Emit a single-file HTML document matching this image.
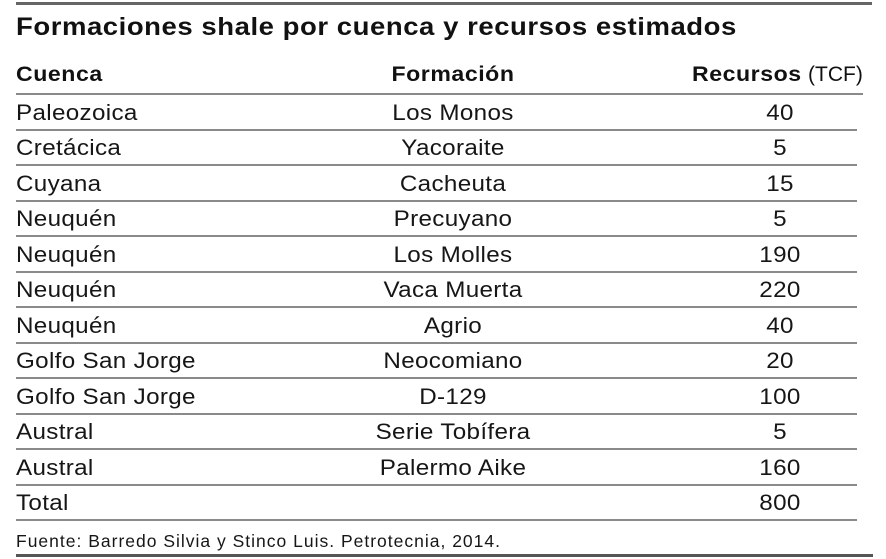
<!DOCTYPE html>
<html>
<head>
<meta charset="utf-8">
<style>
  html,body{margin:0;padding:0;background:#fff;}
  body{width:886px;height:559px;position:relative;overflow:hidden;font-family:"Liberation Sans",Arial,sans-serif;color:#161616;}
  .ln{position:absolute;background:#8a8a8a;height:2px;}
  .t{position:absolute;white-space:nowrap;}
  .title{left:16px;top:14.8px;font-size:25px;line-height:25px;font-weight:bold;letter-spacing:0.5px;color:#111;transform:scaleX(1.1);transform-origin:0 50%;}
  .hd{top:64.2px;font-size:21px;line-height:21px;font-weight:bold;letter-spacing:0.5px;color:#111;transform:scaleX(1.1);}
  .row{position:absolute;left:0;width:886px;height:35.5px;font-size:22px;line-height:35.5px;letter-spacing:0.3px;}
  .row span{position:absolute;top:0.6px;white-space:nowrap;transform:scaleX(1.1);}
  .c1{left:16px;transform-origin:0 50%;}
  .c2{left:353px;width:200px;text-align:center;transform-origin:50% 50%;}
  .c3{left:730px;width:100px;text-align:center;transform-origin:50% 50%;}
  .src{left:16px;top:533.2px;font-size:17.5px;line-height:17.5px;letter-spacing:1px;}
</style>
</head>
<body>
  <div class="ln" style="left:16px;top:2px;width:856px;height:3px;background:#666;"></div>
  <div class="t title">Formaciones shale por cuenca y recursos estimados</div>

  <div class="t hd" style="left:16px;transform-origin:0 50%;">Cuenca</div>
  <div class="t hd" style="left:353px;width:200px;text-align:center;transform-origin:50% 50%;">Formación</div>
  <div class="t hd" style="left:692px;transform-origin:0 50%;">Recursos</div>
  <div class="t" style="left:808px;top:64.2px;font-size:21px;line-height:21px;color:#111;">(TCF)</div>

  <div class="ln" style="left:16px;top:93px;width:847px;"></div>
  <div class="ln" style="left:16px;top:128.5px;width:841px;"></div>
  <div class="ln" style="left:16px;top:164px;width:841px;"></div>
  <div class="ln" style="left:16px;top:199.5px;width:841px;"></div>
  <div class="ln" style="left:16px;top:235px;width:841px;"></div>
  <div class="ln" style="left:16px;top:270.5px;width:841px;"></div>
  <div class="ln" style="left:16px;top:306px;width:841px;"></div>
  <div class="ln" style="left:16px;top:341.5px;width:841px;"></div>
  <div class="ln" style="left:16px;top:377px;width:841px;"></div>
  <div class="ln" style="left:16px;top:412.5px;width:841px;"></div>
  <div class="ln" style="left:16px;top:448px;width:841px;"></div>
  <div class="ln" style="left:16px;top:483.5px;width:841px;"></div>
  <div class="ln" style="left:16px;top:519px;width:841px;"></div>

  <div class="row" style="top:94px;"><span class="c1">Paleozoica</span><span class="c2">Los Monos</span><span class="c3">40</span></div>
  <div class="row" style="top:129.5px;"><span class="c1">Cretácica</span><span class="c2">Yacoraite</span><span class="c3">5</span></div>
  <div class="row" style="top:165px;"><span class="c1">Cuyana</span><span class="c2">Cacheuta</span><span class="c3">15</span></div>
  <div class="row" style="top:200.5px;"><span class="c1">Neuquén</span><span class="c2">Precuyano</span><span class="c3">5</span></div>
  <div class="row" style="top:236px;"><span class="c1">Neuquén</span><span class="c2">Los Molles</span><span class="c3">190</span></div>
  <div class="row" style="top:271.5px;"><span class="c1">Neuquén</span><span class="c2">Vaca Muerta</span><span class="c3">220</span></div>
  <div class="row" style="top:307px;"><span class="c1">Neuquén</span><span class="c2">Agrio</span><span class="c3">40</span></div>
  <div class="row" style="top:342.5px;"><span class="c1">Golfo San Jorge</span><span class="c2">Neocomiano</span><span class="c3">20</span></div>
  <div class="row" style="top:378px;"><span class="c1">Golfo San Jorge</span><span class="c2">D-129</span><span class="c3">100</span></div>
  <div class="row" style="top:413.5px;"><span class="c1">Austral</span><span class="c2">Serie Tobífera</span><span class="c3">5</span></div>
  <div class="row" style="top:449px;"><span class="c1">Austral</span><span class="c2">Palermo Aike</span><span class="c3">160</span></div>
  <div class="row" style="top:484.5px;"><span class="c1">Total</span><span class="c3">800</span></div>

  <div class="t src">Fuente: Barredo Silvia y Stinco Luis. Petrotecnia, 2014.</div>
  <div class="ln" style="left:16px;top:554px;width:857px;height:3px;background:#555;"></div>
</body>
</html>
